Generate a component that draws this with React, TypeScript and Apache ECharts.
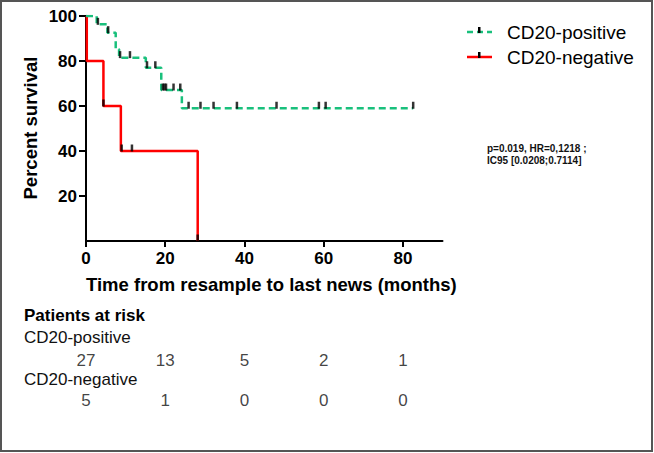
import React, { useEffect, useRef } from "react";
import * as echarts from "echarts";

const FONT = "'Liberation Sans', Arial, sans-serif";

// Kaplan-Meier steps (time in months, percent survival)
const posTimes = [0, 2.7, 5.4, 7.5, 8.35, 15.1, 19.0, 24.2, 82.6];
const posSurv = [100, 96.3, 92.6, 85.2, 81.5, 77.0, 67.1, 59.0, 59.0];
const posCensorTimes = [3.0, 5.6, 8.6, 11.1, 15.4, 17.5, 19.4, 19.8, 20.2, 22.1, 23.8, 25.9, 28.9, 32.2, 38.1, 48.1, 58.8, 60.5, 82.6];
const posCensorSurv = [96.3, 92.6, 81.5, 81.5, 77.0, 77.0, 67.1, 67.1, 67.1, 67.1, 67.1, 59.0, 59.0, 59.0, 59.0, 59.0, 59.0, 59.0, 59.0];

const negTimes = [0, 0.2, 4.4, 8.8, 28.2];
const negSurv = [100, 80, 60, 40, 0];
const negCensorTimes = [4.4, 9.0, 11.6, 28.2];
const negCensorSurv = [60, 40, 40, 0];

const xTicks = [0, 20, 40, 60, 80];
const yTicks = [20, 40, 60, 80, 100];

const riskTimes = [0, 20, 40, 60, 80];
const riskPositive = [27, 13, 5, 2, 1];
const riskNegative = [5, 1, 0, 0, 0];

const GREEN = "#19c07c";
const RED = "#ff0000";

export default function App() {
  const ref = useRef<HTMLDivElement>(null);
  useEffect(() => {
    if (!ref.current) return;
    const chart = echarts.init(ref.current, null, { renderer: "svg" });
    const zip = (a: number[], b: number[]) => a.map((v, i) => [v, b[i]]);
    const axisLine = { show: true, lineStyle: { color: "#000", width: 2 } };
    const option: any = {
      animation: false,
      backgroundColor: "#fff",
      grid: [
        { left: 86, top: 16, width: 356.5, height: 225 },
        { left: 86, top: 360, width: 356.5, height: 40 },
      ],
      xAxis: [
        {
          type: "value",
          gridIndex: 0,
          min: 0,
          max: 90,
          interval: 20,
          axisLine,
          axisTick: { show: true, length: 6, lineStyle: { color: "#000", width: 2 }, customValues: xTicks },
          axisLabel: { customValues: xTicks, color: "#000", fontWeight: "bold", fontSize: 17, fontFamily: FONT, margin: 9 },
          splitLine: { show: false },
        },
        { type: "value", gridIndex: 1, min: 0, max: 90, show: false },
      ],
      yAxis: [
        {
          type: "value",
          gridIndex: 0,
          min: 0,
          max: 100,
          interval: 20,
          axisLine,
          axisTick: { show: true, length: 7, lineStyle: { color: "#000", width: 2 }, customValues: yTicks },
          axisLabel: { customValues: yTicks, color: "#000", fontWeight: "bold", fontSize: 17, fontFamily: FONT, margin: 9 },
          splitLine: { show: false },
        },
        { type: "value", gridIndex: 1, min: 0, max: 1, show: false },
      ],
      series: [
        {
          name: "CD20-positive",
          type: "line",
          step: "end",
          data: zip(posTimes, posSurv),
          symbol: "none",
          lineStyle: { color: GREEN, width: 2.5, type: [7, 4] },
          z: 3,
        },
        {
          name: "CD20-negative",
          type: "line",
          step: "end",
          data: zip(negTimes, negSurv),
          symbol: "none",
          lineStyle: { color: RED, width: 2.5 },
          z: 2,
        },
        {
          type: "scatter",
          data: zip(posCensorTimes, posCensorSurv),
          symbol: "rect",
          symbolSize: [2.5, 7],
          symbolOffset: [0, -3],
          itemStyle: { color: "#000" },
          z: 5,
        },
        {
          type: "scatter",
          data: zip(negCensorTimes, negCensorSurv),
          symbol: "rect",
          symbolSize: [2.5, 7],
          symbolOffset: [0, -3],
          itemStyle: { color: "#000" },
          z: 5,
        },
        {
          type: "scatter",
          xAxisIndex: 1,
          yAxisIndex: 1,
          data: riskTimes.map((t, i) => [t, 1, riskPositive[i]]),
          symbolSize: 1,
          itemStyle: { color: "rgba(0,0,0,0)" },
          label: { show: true, position: "inside", formatter: (p: any) => String(p.value[2]), color: "#111", fontSize: 17, fontFamily: FONT },
        },
        {
          type: "scatter",
          xAxisIndex: 1,
          yAxisIndex: 1,
          data: riskTimes.map((t, i) => [t, 0, riskNegative[i]]),
          symbolSize: 1,
          itemStyle: { color: "rgba(0,0,0,0)" },
          label: { show: true, position: "inside", formatter: (p: any) => String(p.value[2]), color: "#111", fontSize: 17, fontFamily: FONT },
        },
      ],
      graphic: [
        { type: "rect", shape: { x: 1, y: 1, width: 651, height: 450 }, style: { fill: "none", stroke: "#555", lineWidth: 2 }, silent: true },
        // legend
        { type: "line", shape: { x1: 467, y1: 32, x2: 492, y2: 32 }, style: { stroke: GREEN, lineWidth: 2.5, lineDash: [6, 4] } },
        { type: "rect", shape: { x: 478, y: 27, width: 2.5, height: 6 }, style: { fill: "#000" } },
        { type: "text", x: 507, y: 32, style: { text: "CD20-positive", font: `19px ${FONT}`, fill: "#000", textVerticalAlign: "middle" } },
        { type: "line", shape: { x1: 467, y1: 57, x2: 492, y2: 57 }, style: { stroke: RED, lineWidth: 2.5 } },
        { type: "rect", shape: { x: 478, y: 52, width: 2.5, height: 6 }, style: { fill: "#000" } },
        { type: "text", x: 507, y: 57, style: { text: "CD20-negative", font: `19px ${FONT}`, fill: "#000", textVerticalAlign: "middle" } },
        // annotation
        { type: "text", x: 487, y: 148, style: { text: "p=0.019, HR=0,1218 ;", font: `bold 10px ${FONT}`, fill: "#111", textVerticalAlign: "middle" } },
        { type: "text", x: 487, y: 160, style: { text: "IC95 [0.0208;0.7114]", font: `bold 10px ${FONT}`, fill: "#111", textVerticalAlign: "middle" } },
        // axis titles
        { type: "text", x: 30, y: 128, rotation: Math.PI / 2, style: { text: "Percent survival", font: `bold 18.5px ${FONT}`, fill: "#000", textAlign: "center", textVerticalAlign: "middle" } },
        { type: "text", x: 86, y: 284, style: { text: "Time from resample to last news (months)", font: `bold 18.5px ${FONT}`, fill: "#000", textVerticalAlign: "middle" } },
        // risk table labels
        { type: "text", x: 24, y: 315, style: { text: "Patients at risk", font: `bold 17px ${FONT}`, fill: "#000", textVerticalAlign: "middle" } },
        { type: "text", x: 24, y: 337, style: { text: "CD20-positive", font: `17px ${FONT}`, fill: "#111", textVerticalAlign: "middle" } },
        { type: "text", x: 24, y: 379, style: { text: "CD20-negative", font: `17px ${FONT}`, fill: "#111", textVerticalAlign: "middle" } },
      ],
    };
    chart.setOption(option);
    return () => chart.dispose();
  }, []);
  return <div ref={ref} style={{ position: "fixed", left: 0, top: 0, width: 654, height: 453 }} />;
}
